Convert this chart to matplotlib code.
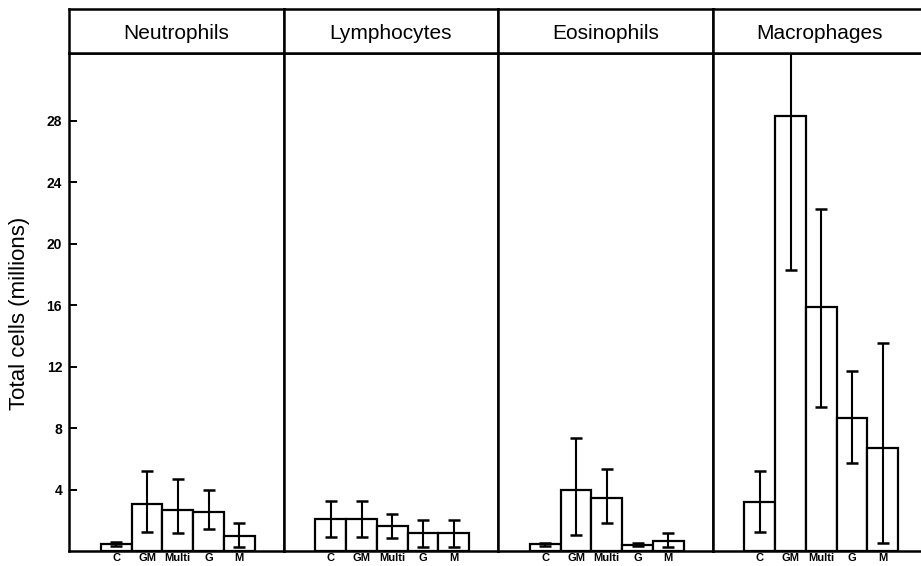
import matplotlib
matplotlib.use('Agg')
import matplotlib.pyplot as plt
import numpy as np

plt.rcParams['font.family'] = ['Liberation Sans', 'DejaVu Sans']

groups = ['C', 'GM', 'Multi', 'G', 'M']
panels = ['Neutrophils', 'Lymphocytes', 'Eosinophils', 'Macrophages']

# bar heights and ends of the error bars (millions of cells)
neutrophils = [0.45, 3.05, 2.7, 2.55, 0.98]
neutrophils_low = [0.3, 1.24, 1.2, 1.4, 0.28]
neutrophils_high = [0.6, 5.2, 4.67, 3.97, 1.8]

lymphocytes = [2.05, 2.1, 1.6, 1.2, 1.2]
lymphocytes_low = [0.93, 0.93, 0.85, 0.28, 0.28]
lymphocytes_high = [3.27, 3.27, 2.4, 2.0, 2.0]

eosinophils = [0.45, 4.0, 3.45, 0.42, 0.63]
eosinophils_low = [0.35, 1.02, 1.84, 0.32, 0.24]
eosinophils_high = [0.55, 7.33, 5.36, 0.52, 1.15]

macrophages = [3.2, 28.3, 15.85, 8.65, 6.7]
macrophages_low = [1.22, 18.25, 9.36, 5.71, 0.54]
macrophages_high = [5.23, 38.3, 22.25, 11.7, 13.54]

yticks = [4, 8, 12, 16, 20, 24, 28]

series = [
    (neutrophils, neutrophils_low, neutrophils_high),
    (lymphocytes, lymphocytes_low, lymphocytes_high),
    (eosinophils, eosinophils_low, eosinophils_high),
    (macrophages, macrophages_low, macrophages_high),
]

W, H = 921, 566
fig = plt.figure(figsize=(W / 100, H / 100), dpi=100)

left, base, top, frame_top = 69, 551, 53, 9
pw = 214.5
lw = 1.8

x = np.arange(1, len(groups) + 1)
for i, (name, (vals, lo, hi)) in enumerate(zip(panels, series)):
    x0 = left + i * pw
    ax = fig.add_axes([x0 / W, (H - base) / H, pw / W, (base - top) / H])
    vals = np.array(vals)
    yerr = [vals - np.array(lo), np.array(hi) - vals]
    ax.bar(x, vals, width=1.0, facecolor='white', edgecolor='black',
           linewidth=1.6, zorder=2)
    ax.errorbar(x, vals, yerr=yerr, fmt='none', ecolor='black',
                elinewidth=1.5, capsize=4, capthick=1.8, zorder=3)
    ax.set_xlim(-0.54, 6.44)
    ax.set_ylim(0, 32.4)
    ax.set_xticks(x)
    ax.set_xticklabels(groups, fontsize=8, fontweight='bold')
    ax.tick_params(axis='x', length=0, pad=1.5)
    if i == 0:
        ax.set_yticks(yticks)
        ax.set_yticklabels([str(t) for t in yticks], fontsize=10,
                           fontweight='bold')
        ax.tick_params(axis='y', direction='in', length=6, width=1.4, pad=5)
    else:
        ax.set_yticks([])
    for s in ax.spines.values():
        s.set_linewidth(lw)

    # header box with the cell type
    hx = fig.add_axes([x0 / W, (H - top) / H, pw / W, (top - frame_top) / H])
    hx.set_xticks([])
    hx.set_yticks([])
    for s in hx.spines.values():
        s.set_linewidth(lw)
    hx.text(0.5, 0.45, name, ha='center', va='center', fontsize=15,
            transform=hx.transAxes)

fig.text(20 / W, 1 - 313 / H, 'Total cells (millions)', rotation=90,
         ha='center', va='center', fontsize=16)

fig.savefig('out.png', dpi=100)
